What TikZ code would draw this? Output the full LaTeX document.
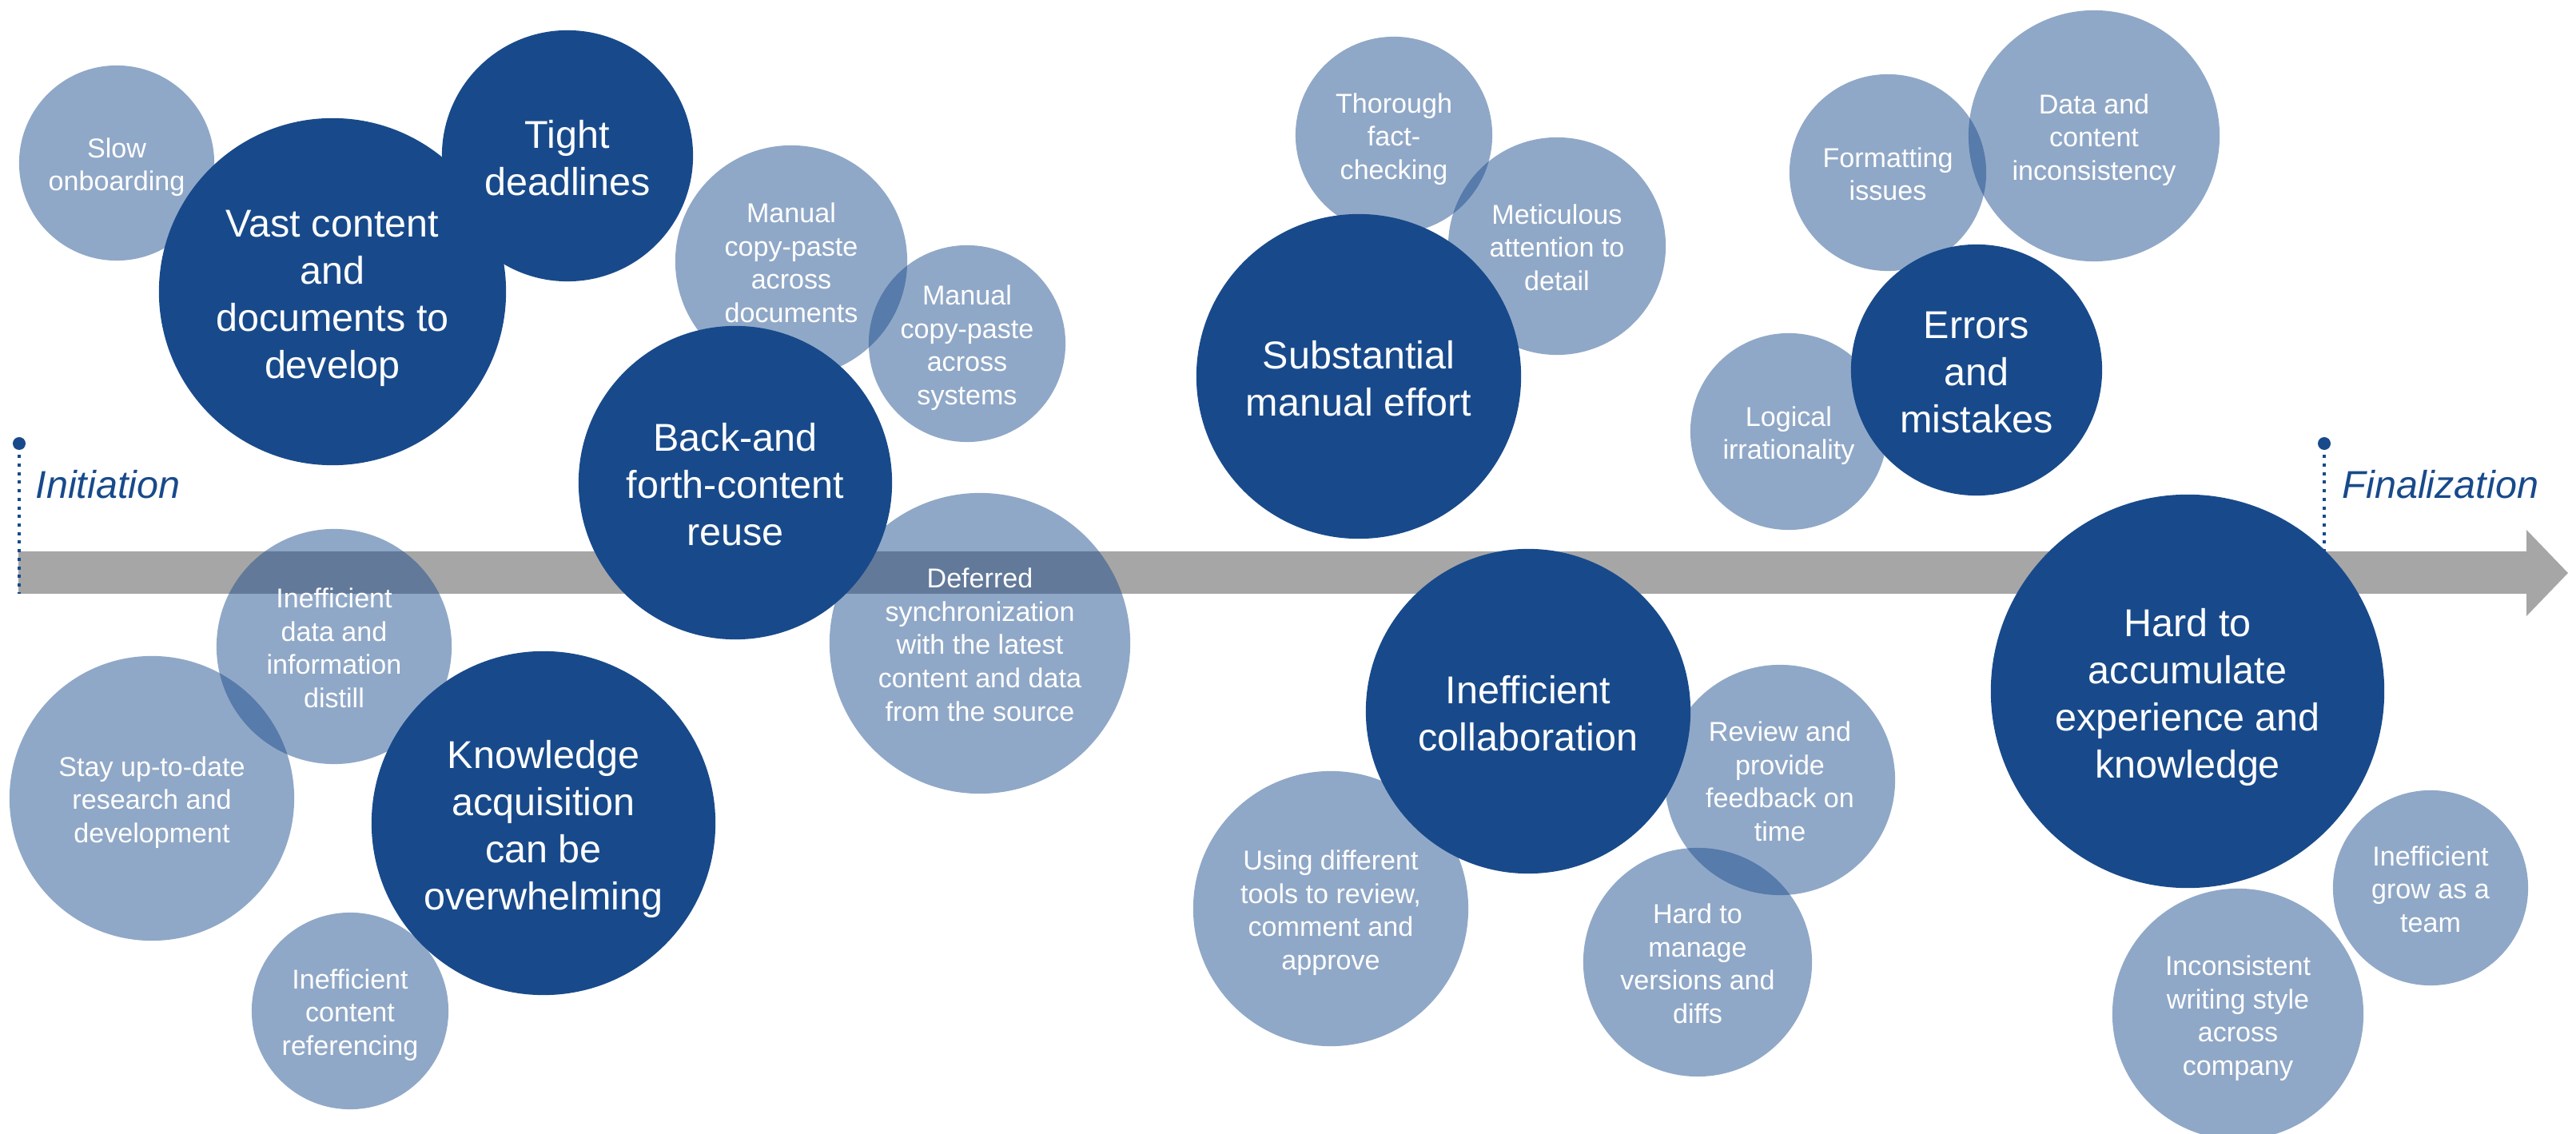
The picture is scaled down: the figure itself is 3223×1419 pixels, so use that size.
\documentclass[tikz,border=0pt]{standalone}
\usepackage{fontspec}
\setmainfont{Liberation Sans}
\definecolor{myblue}{HTML}{184A8B}
\definecolor{arrowgray}{HTML}{A6A6A6}
\newcommand\topstrt{\rule{0pt}{1.07em}}
\newcommand\botstrt{\rule[-0.25em]{0pt}{0.25em}}
\begin{document}
\begin{tikzpicture}[x=0.01cm,y=-0.01cm,
  lightc/.style={circle, fill=myblue, fill opacity=0.48, text opacity=1, text=white, inner sep=0pt, minimum size={#1*0.02cm}, align=center, font=\fontsize{9.7}{11.9}\selectfont},
  darkc/.style={circle, fill=myblue, text=white, inner sep=0pt, minimum size={#1*0.02cm}, align=center, font=\fontsize{13.8}{16.8}\selectfont},
  phase/.style={text=myblue, font=\itshape\fontsize{13.8}{16.5}\selectfont, anchor=base west, inner sep=0pt},
  pin/.style={circle, fill=myblue, inner sep=0pt, minimum size=0.16cm},
  guide/.style={myblue, line width=1.3pt, dash pattern=on 1.15pt off 1.9pt, dash phase=1.5pt}]
\useasboundingbox (0,0) rectangle (3223,1419);
\clip (0,0) rectangle (3223,1419);

% timeline arrow
\fill[arrowgray] (23,690) -- (3161,690) -- (3161,663) -- (3213,717) -- (3161,771) -- (3161,743) -- (23,743) -- cycle;

% phase markers
\node[pin] (p1) at (24,555) {};
\node[pin] (p2) at (2908,555) {};
\coordinate (g1) at (24,743);
\coordinate (g2) at (2908,743);
\draw[guide] (p1.south) -- (g1);
\draw[guide] (p2.south) -- (g2);
\node[phase] (init) at (44,624) {Initiation};
\node[phase] (fin) at (2930,624) {Finalization};

% light circles
\node[lightc=122] (l1) at (146,204) {\topstrt Slow\\onboarding\botstrt};
\node[lightc=145] (l2) at (990,327) {\topstrt Manual\\copy-paste\\across\\documents\botstrt};
\node[lightc=123] (l3) at (1210,430) {\topstrt Manual\\copy-paste\\across\\systems\botstrt};
\node[lightc=178] (l5) at (190,999) {\topstrt Stay up-to-date\\research and\\development\botstrt};
\node[lightc=147] (l4) at (418,809) {\topstrt Inefficient\\data and\\information\\distill\botstrt};
\node[lightc=123] (l6) at (438,1265) {\topstrt Inefficient\\content\\referencing\botstrt};
\node[lightc=188] (l7) at (1226,805) {\topstrt Deferred\\synchronization\\with the latest\\content and data\\from the source\botstrt};
\node[lightc=123] (l8) at (1744,169) {\topstrt Thorough\\fact-\\checking\botstrt};
\node[lightc=136] (l9) at (1948,308) {\topstrt Meticulous\\attention to\\detail\botstrt};
\node[lightc=123] (l10) at (2362,216) {\topstrt Formatting\\issues\botstrt};
\node[lightc=157] (l11) at (2620,170) {\topstrt Data and\\content\\inconsistency\botstrt};
\node[lightc=123] (l12) at (2238,540) {\topstrt Logical\\irrationality\botstrt};
\node[lightc=144] (l13) at (2227,976) {\topstrt Review and\\provide\\feedback on\\time\botstrt};
\node[lightc=143] (l15) at (2124,1204) {\topstrt Hard to\\manage\\versions and\\diffs\botstrt};
\node[lightc=172] (l14) at (1665,1137) {\topstrt Using different\\tools to review,\\comment and\\approve\botstrt};
\node[lightc=122] (l16) at (3041,1111) {\topstrt Inefficient\\grow as a\\team\botstrt};
\node[lightc=157] (l17) at (2800,1269) {\topstrt Inconsistent\\writing style\\across\\company\botstrt};

% dark circles
\node[darkc=217] (d1) at (416,365) {\topstrt Vast content\\and\\documents to\\develop\botstrt};
\node[darkc=157] (d2) at (710,195) {\topstrt Tight\\deadlines\botstrt};
\node[darkc=196] (d3) at (920,604) {\topstrt Back-and\\forth-content\\reuse\botstrt};
\node[darkc=215] (d4) at (680,1030) {\topstrt Knowledge\\acquisition\\can be\\overwhelming\botstrt};
\node[darkc=203] (d5) at (1700,471) {\topstrt Substantial\\manual effort\botstrt};
\node[darkc=157] (d6) at (2473,463) {\topstrt Errors\\and\\mistakes\botstrt};
\node[darkc=203] (d7) at (1912,890) {\topstrt Inefficient\\collaboration\botstrt};
\node[darkc=246] (d8) at (2737,865) {\topstrt Hard to\\accumulate\\experience and\\knowledge\botstrt};
\end{tikzpicture}
\end{document}
